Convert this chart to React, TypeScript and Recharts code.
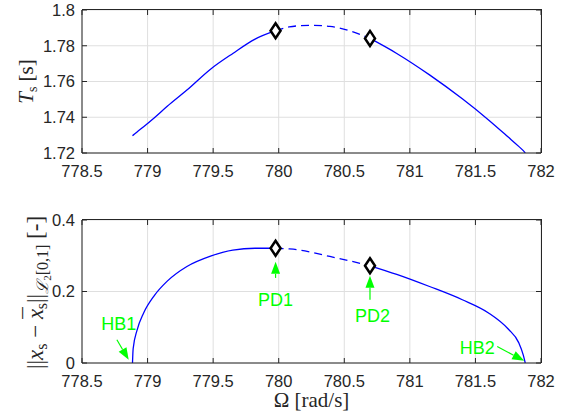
import {
  CartesianGrid,
  ComposedChart,
  Label,
  Line,
  ReferenceDot,
  ReferenceLine,
  Scatter,
  XAxis,
  YAxis,
} from 'recharts'

const omegaTicks = [778.5, 779, 779.5, 780, 780.5, 781, 781.5, 782]
const periodTicks = [1.72, 1.74, 1.76, 1.78, 1.8]
const ampTicks = [0, 0.2, 0.4]

// stable branch HB1 -> PD1
const omegaStable1 = [778.885, 778.89, 778.92, 778.97, 779.05, 779.15, 779.3, 779.48, 779.65, 779.82, 779.976]
const periodStable1 = [1.7297, 1.73, 1.7318, 1.7347, 1.7396, 1.7461, 1.7552, 1.7669, 1.7757, 1.7837, 1.7884]
const ampStable1 = [0, 0.04, 0.092, 0.14, 0.188, 0.229, 0.27, 0.299, 0.316, 0.321, 0.321]

// unstable branch PD1 -> PD2
const omegaUnstable = [779.976, 780.08, 780.16, 780.26, 780.39, 780.54, 780.696]
const periodUnstable = [1.7884, 1.7905, 1.7912, 1.7914, 1.7908, 1.7884, 1.7841]
const ampUnstable = [0.321, 0.319, 0.316, 0.309, 0.298, 0.286, 0.272]

// stable branch PD2 -> HB2
const omegaStable2 = [780.696, 780.9, 781.15, 781.4, 781.6, 781.75, 781.83, 781.865, 781.88]
const periodStable2 = [1.7841, 1.7757, 1.7637, 1.7503, 1.7385, 1.7289, 1.7237, 1.7213, 1.72]
const ampStable2 = [0.272, 0.248, 0.214, 0.177, 0.14, 0.095, 0.057, 0.022, 0]

const omegaPD = [779.976, 780.696]
const periodPD = [1.7884, 1.7841]
const ampPD = [0.321, 0.272]

const annotNames = ['HB1', 'PD1', 'PD2', 'HB2']
const annotTextOmega = [778.78, 779.976, 780.716, 781.514]
const annotTextAmp = [0.108, 0.177, 0.132, 0.043]
const arrowTailOmega = [778.766, 779.976, 780.696, 781.666]
const arrowTailAmp = [0.065, 0.238, 0.177, 0.046]
const arrowHeadOmega = [778.856, 779.976, 780.696, 781.872]
const arrowHeadAmp = [0.009, 0.283, 0.244, 0.006]

const BLUE = '#0000ff'
const AX = '#262626'
const GRID = '#dfdfdf'
const GREEN = '#00ff00'
const SANS = '"Liberation Sans", Arial, sans-serif'
const SERIF = '"Liberation Serif", "Times New Roman", serif'

const CHART_W = 565
const Y_AXIS_W = 82
const RIGHT_MARGIN = 24

const zip = (xs: number[], ys: number[]) => xs.map((x, i) => ({ x, y: ys[i] }))

const Diamond = (p: any) => {
  const { cx, cy } = p
  return (
    <polygon
      points={`${cx},${cy - 7.5} ${cx + 5},${cy} ${cx},${cy + 7.5} ${cx - 5},${cy}`}
      fill="#fff"
      stroke="#000"
      strokeWidth={2.5}
    />
  )
}

const Arrow = (p: any) => {
  const { x1, y1, x2, y2 } = p
  const dx = x2 - x1
  const dy = y2 - y1
  const len = Math.hypot(dx, dy) || 1
  const ux = dx / len
  const uy = dy / len
  const hl = 12
  const hw = 4.5
  const bx = x2 - ux * hl
  const by = y2 - uy * hl
  return (
    <g>
      <line x1={x1} y1={y1} x2={bx} y2={by} stroke={GREEN} strokeWidth={1.2} />
      <polygon
        points={`${x2},${y2} ${bx - uy * hw},${by + ux * hw} ${bx + uy * hw},${by - ux * hw}`}
        fill={GREEN}
      />
    </g>
  )
}

// inward ticks on the top / right box edges
const RightTick = (p: any) => {
  const xr = Math.max(p.x1, p.x2)
  return <line x1={xr - 5} y1={p.y1} x2={xr} y2={p.y2} stroke={AX} strokeWidth={1} />
}
const TopTick = (p: any) => {
  const yt = Math.min(p.y1, p.y2)
  return <line x1={p.x1} y1={yt} x2={p.x2} y2={yt + 5} stroke={AX} strokeWidth={1} />
}

const PeriodLabel = (p: any) => {
  const vb = p.viewBox
  const cx = 33
  const cy = vb.y + vb.height / 2
  return (
    <text
      x={cx}
      y={cy}
      transform={`rotate(-90, ${cx}, ${cy})`}
      textAnchor="middle"
      fontFamily={SERIF}
      fontSize={21}
      fill={AX}
    >
      <tspan fontStyle="italic">T</tspan>
      <tspan fontSize={14} dy={4}>s</tspan>
      <tspan dy={-4}> [s]</tspan>
    </text>
  )
}

const AmpLabel = (p: any) => {
  const vb = p.viewBox
  const cx = 43
  const cy = vb.y + vb.height / 2 + 1
  return (
    <text
      x={cx}
      y={cy}
      transform={`rotate(-90, ${cx}, ${cy})`}
      textAnchor="middle"
      fontFamily={SERIF}
      fontSize={23}
      fill={AX}
    >
      <tspan>||</tspan>
      <tspan fontStyle="italic">x</tspan>
      <tspan fontSize={16} dy={4}>s</tspan>
      <tspan dy={-4}> − </tspan>
      <tspan fontStyle="italic">x</tspan>
      <tspan dx={-10} dy={-3}>¯</tspan>
      <tspan fontSize={16} dx={-2} dy={7}>s</tspan>
      <tspan dy={-4}>||</tspan>
      <tspan fontSize={16} dy={5} fontStyle="italic" fontFamily='"DejaVu Serif", serif'>ℒ</tspan>
      <tspan fontSize={11} dy={3}>2</tspan>
      <tspan fontSize={16} dy={-3}>[0,1]</tspan>
      <tspan dy={-5}> [-]</tspan>
    </text>
  )
}

const OmegaLabel = (p: any) => {
  const vb = p.viewBox
  return (
    <text
      x={vb.x + vb.width / 2}
      y={vb.y + 44}
      textAnchor="middle"
      fontFamily={SERIF}
      fontSize={21}
      fill={AX}
    >
      Ω [rad/s]
    </text>
  )
}

const tickStyle = { fontSize: 16.5, fill: AX, fontFamily: SANS }

interface PanelProps {
  height: number
  plotTop: number
  xAxisHeight: number
  yTicks: number[]
  yDomain: [number, number]
  stable1: number[]
  unstable: number[]
  stable2: number[]
  pd: number[]
  yLabel: (p: any) => any
  withXLabel?: boolean
  withAnnotations?: boolean
}

function Panel(props: PanelProps) {
  const { height, plotTop, xAxisHeight, yTicks, yDomain } = props
  const plotH = height - plotTop - xAxisHeight
  const plotW = CHART_W - Y_AXIS_W - RIGHT_MARGIN
  return (
    <div style={{ position: 'relative', width: CHART_W, height }}>
      <ComposedChart
        width={CHART_W}
        height={height}
        margin={{ top: plotTop, right: RIGHT_MARGIN, bottom: 0, left: 0 }}
      >
        <CartesianGrid stroke={GRID} strokeWidth={1} />
        <XAxis
          dataKey="x"
          type="number"
          domain={[778.5, 782]}
          ticks={omegaTicks}
          allowDataOverflow
          height={xAxisHeight}
          tick={tickStyle}
          tickSize={-5}
          tickMargin={17}
          axisLine={{ stroke: AX }}
          tickLine={{ stroke: AX }}
          interval={0}
        >
          {props.withXLabel && <Label content={OmegaLabel} />}
        </XAxis>
        <YAxis
          dataKey="y"
          type="number"
          domain={yDomain}
          ticks={yTicks}
          allowDataOverflow
          width={Y_AXIS_W}
          tick={tickStyle}
          tickSize={-5}
          tickMargin={12}
          axisLine={{ stroke: AX }}
          tickLine={{ stroke: AX }}
          interval={0}
        >
          <Label content={props.yLabel} />
        </YAxis>
        {yTicks.map((t) => (
          <ReferenceLine key={`ry-${t}`} y={t} ifOverflow="visible" shape={RightTick} />
        ))}
        {omegaTicks.map((t) => (
          <ReferenceLine key={`tx-${t}`} x={t} ifOverflow="visible" shape={TopTick} />
        ))}
        <Line
          data={zip(omegaStable1, props.stable1)}
          dataKey="y"
          type="monotone"
          stroke={BLUE}
          strokeWidth={1.3}
          dot={false}
          isAnimationActive={false}
        />
        <Line
          data={zip(omegaUnstable, props.unstable)}
          dataKey="y"
          type="monotone"
          stroke={BLUE}
          strokeWidth={1.3}
          strokeDasharray="8 5"
          dot={false}
          isAnimationActive={false}
        />
        <Line
          data={zip(omegaStable2, props.stable2)}
          dataKey="y"
          type="monotone"
          stroke={BLUE}
          strokeWidth={1.3}
          dot={false}
          isAnimationActive={false}
        />
        <Scatter data={zip(omegaPD, props.pd)} dataKey="y" shape={Diamond} isAnimationActive={false} />
        {props.withAnnotations &&
          annotNames.map((name, i) => (
            <ReferenceLine
              key={`a-${name}`}
              segment={[
                { x: arrowTailOmega[i], y: arrowTailAmp[i] },
                { x: arrowHeadOmega[i], y: arrowHeadAmp[i] },
              ]}
              shape={Arrow}
              ifOverflow="visible"
            />
          ))}
        {props.withAnnotations &&
          annotNames.map((name, i) => (
            <ReferenceDot
              key={`t-${name}`}
              x={annotTextOmega[i]}
              y={annotTextAmp[i]}
              r={0}
              ifOverflow="visible"
              shape={(p: any) => (
                <text
                  x={p.cx}
                  y={p.cy}
                  textAnchor="middle"
                  dominantBaseline="central"
                  fontFamily={SANS}
                  fontSize={18}
                  fill={GREEN}
                >
                  {name}
                </text>
              )}
            />
          ))}
      </ComposedChart>
      {/* top and right edges of the axes box */}
      <div
        style={{
          position: 'absolute',
          left: Y_AXIS_W,
          top: plotTop - 1,
          width: plotW + 1,
          height: plotH + 1,
          borderTop: `1px solid ${AX}`,
          borderRight: `1px solid ${AX}`,
          boxSizing: 'border-box',
          pointerEvents: 'none',
        }}
      />
    </div>
  )
}

export default function App() {
  return (
    <div style={{ position: 'absolute', left: 0, top: 0, width: CHART_W, height: 420, background: '#fff' }}>
      <Panel
        height={200}
        plotTop={10}
        xAxisHeight={47}
        yTicks={periodTicks}
        yDomain={[1.72, 1.8]}
        stable1={periodStable1}
        unstable={periodUnstable}
        stable2={periodStable2}
        pd={periodPD}
        yLabel={PeriodLabel}
      />
      <Panel
        height={220}
        plotTop={20}
        xAxisHeight={57}
        yTicks={ampTicks}
        yDomain={[0, 0.4]}
        stable1={ampStable1}
        unstable={ampUnstable}
        stable2={ampStable2}
        pd={ampPD}
        yLabel={AmpLabel}
        withXLabel
        withAnnotations
      />
    </div>
  )
}
